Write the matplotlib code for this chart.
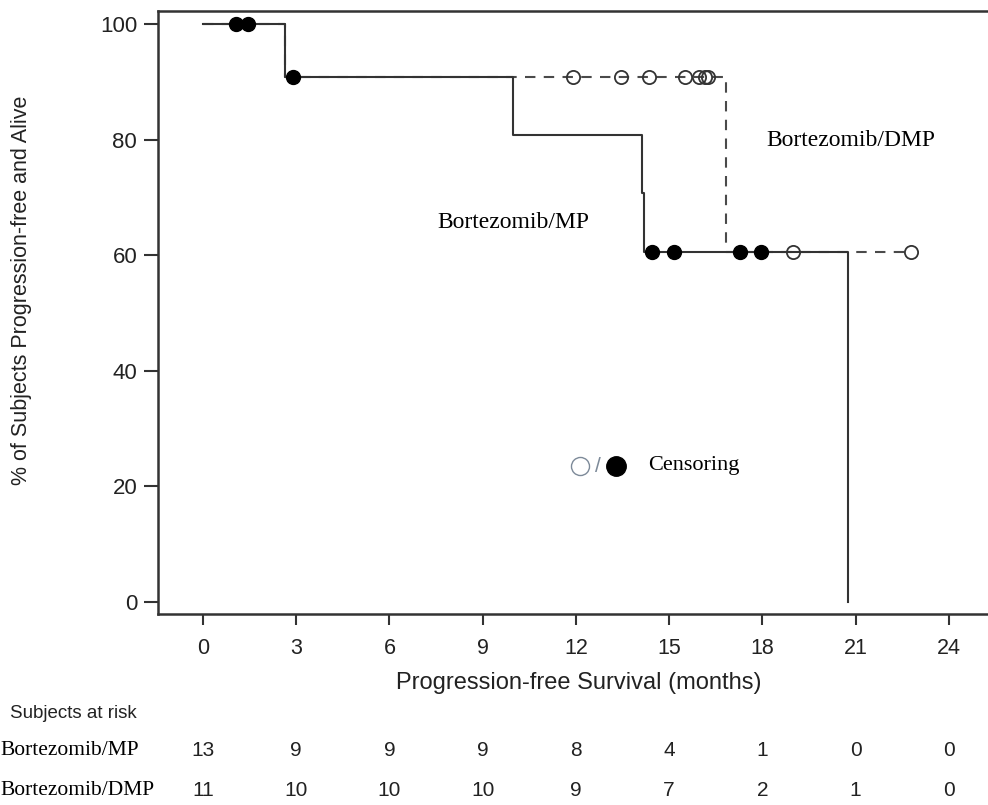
import numpy as np
import matplotlib
matplotlib.use("Agg")
import matplotlib.pyplot as plt
from matplotlib import transforms

# ticks and numbers at risk
month_ticks = [0, 3, 6, 9, 12, 15, 18, 21, 24]
pct_ticks = [0, 20, 40, 60, 80, 100]
mp_at_risk = [13, 9, 9, 9, 8, 4, 1, 0, 0]
dmp_at_risk = [11, 10, 10, 10, 9, 7, 2, 1, 0]

# Kaplan-Meier step curves (time in months, % progression-free)
mp_time = [0, 2.64, 9.98, 14.12, 14.2, 20.76]
mp_surv = [100, 90.9, 80.8, 70.7, 60.6, 0]
mp_censor = [1.06, 1.45, 2.9, 14.45, 15.16, 17.28, 17.96]

dmp_time = [0, 2.64, 16.83, 22.8]
dmp_surv = [100, 90.9, 60.6, 60.6]
dmp_censor = [11.9, 13.45, 14.35, 15.5, 15.95, 16.15, 16.25, 19.0, 22.8]

sans = ["Liberation Sans", "DejaVu Sans"]
serif = ["Liberation Serif", "DejaVu Serif"]
plt.rcParams["font.family"] = sans


def surv_at(times, surv, t):
    i = np.searchsorted(times, t, side="right") - 1
    return np.asarray(surv)[i]


fig = plt.figure(figsize=(9.88, 8.05), dpi=100)
ax = fig.add_axes([158 / 988, 1 - 614 / 805, (1000 - 158) / 988, 603 / 805])

# DMP dashed first, MP solid on top
ax.step(dmp_time, dmp_surv, where="post", color="#4a4a4a", lw=1.5,
        linestyle=(0, (5, 4)), zorder=2)
ax.step(mp_time, mp_surv, where="post", color="#333333", lw=1.5, zorder=3)

ax.plot(dmp_censor, surv_at(dmp_time, dmp_surv, dmp_censor), "o", ms=9.5,
        mfc="none", mec="#333333", mew=1.3, zorder=4)
ax.plot(mp_censor, surv_at(mp_time, mp_surv, mp_censor), "o", ms=10,
        mfc="black", mec="black", zorder=5)

ax.text(7.53, 64.7, "Bortezomib/MP", family=serif, fontsize=17)
ax.text(18.12, 78.9, "Bortezomib/DMP", family=serif, fontsize=17)

# censoring key
ax.plot([12.14], [23.5], "o", ms=13, mfc="none", mec="#7d8a99", mew=1.0)
ax.text(12.7, 23.4, "/", color="#7d8a99", fontsize=15, ha="center", va="center")
ax.plot([13.29], [23.5], "o", ms=14, mfc="black", mec="black")
ax.text(14.32, 22.8, "Censoring", family=serif, fontsize=16)

ax.set_xlim(-1.45, 25.65)
ax.set_ylim(-2.08, 102.25)
ax.set_xticks(month_ticks)
ax.set_yticks(pct_ticks)
ax.tick_params(axis="x", length=8, width=1.5, pad=9, labelsize=15.5,
               colors="#333333", labelcolor="#222222")
ax.tick_params(axis="y", length=10, width=1.5, pad=5, labelsize=16,
               colors="#333333", labelcolor="#222222")
for s in ax.spines.values():
    s.set_linewidth(1.8)
    s.set_color("#333333")

ax.set_xlabel("Progression-free Survival (months)", fontsize=17, color="#222222",
              labelpad=10)
fig.text(22 / 988, 1 - 290 / 805, "% of Subjects Progression-free and Alive",
         rotation=90, ha="center", va="center", fontsize=15.5, color="#222222")

# numbers at risk table
tr = transforms.blended_transform_factory(ax.transData, fig.transFigure)
fig.text(10 / 988, 1 - 713 / 805, "Subjects at risk", fontsize=13.5,
         color="#222222", va="center")
fig.text(0, 1 - 750 / 805, "Bortezomib/MP", family=serif, fontsize=15.5, va="center")
fig.text(0, 1 - 790 / 805, "Bortezomib/DMP", family=serif, fontsize=15.5, va="center")
for m, a, b in zip(month_ticks, mp_at_risk, dmp_at_risk):
    ax.text(m, 1 - 750 / 805, str(a), transform=tr, ha="center", va="center",
            fontsize=15, color="#222222")
    ax.text(m, 1 - 790 / 805, str(b), transform=tr, ha="center", va="center",
            fontsize=15, color="#222222")

plt.savefig("out.png", dpi=100)
